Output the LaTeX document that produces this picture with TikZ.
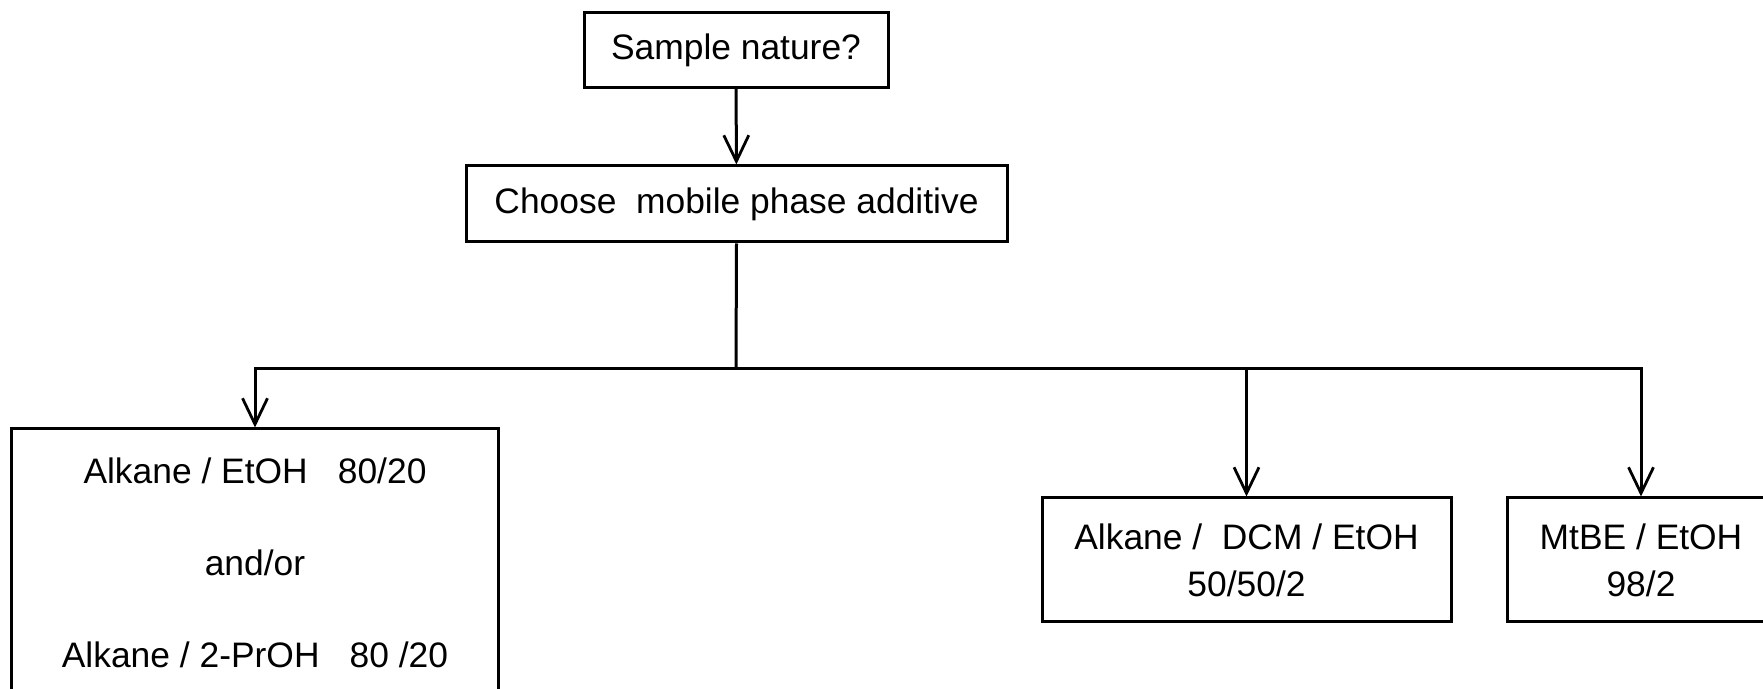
\documentclass[tikz,border=0pt]{standalone}
\usepackage{fontspec}
\setmainfont{Liberation Sans}
\usetikzlibrary{arrows.meta}
\begin{document}
\begin{tikzpicture}[x=0.5pt,y=-0.5pt,
  box/.style={draw=black,line width=1.5pt,rectangle,inner sep=0pt,align=center,
    font=\fontsize{17.7}{23.5}\selectfont},
  conn/.style={line width=1.5pt},
  arr/.style={conn,-{Straight Barb[length=13pt,width=12.5pt,line width=1.4pt]}}]
\clip (0,0) rectangle (1763,689);
\fill[white] (0,0) rectangle (1763,689);
\node[box,minimum width=152pt,minimum height=37.5pt] (sample) at (736,50) {Sample nature?};
\node[box,minimum width=270.5pt,minimum height=38pt] (choose) at (736.5,204) {Choose\ \ mobile phase additive};
\node[box,minimum width=243.5pt,minimum height=134pt,font=\fontsize{17.7}{46}\selectfont] (left) at (255,563)
  {Alkane / EtOH\hspace{0.85em}80/20\\and/or\\Alkane / 2-PrOH\hspace{0.85em}80 /20};
\node[box,minimum width=204.5pt,minimum height=62pt] (mid) at (1246.5,560) {Alkane /\ \ DCM / EtOH\\50/50/2};
\node[box,minimum width=134pt,minimum height=62pt] (right) at (1641,560) {MtBE / EtOH\\98/2};
\coordinate (j) at (736,369);
\draw[arr] (sample) -- (choose);
\draw[conn] (choose.south) -- (j);
\draw[arr] (j) -| (left.north);
\draw[arr] (j) -| (mid.north);
\draw[arr] (j) -| (right.north);
\end{tikzpicture}
\end{document}
